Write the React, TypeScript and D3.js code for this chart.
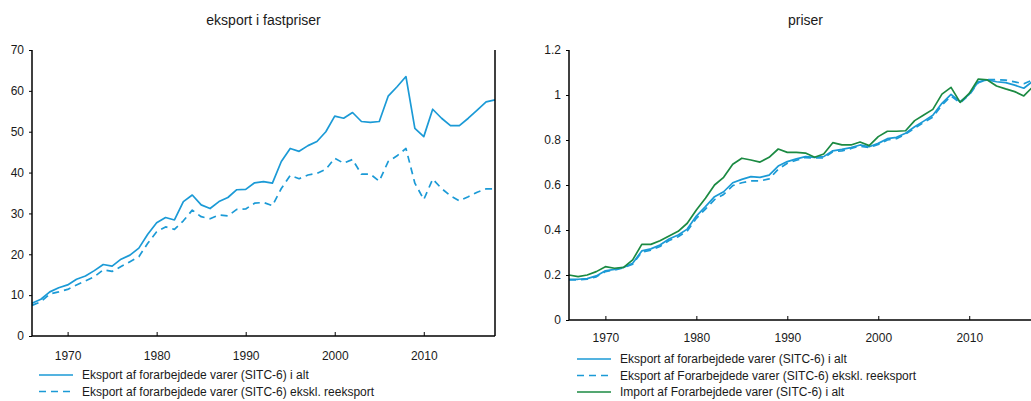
import { useEffect, useRef } from "react";
import * as d3 from "d3";

const years = d3.range(1966, 2019);

// eksport i fastpriser (mia. kr.)
const eksportIAlt = [
  8.0, 9.0, 10.8, 11.8, 12.5, 13.9, 14.7, 16.0, 17.5, 17.1,
  18.8, 19.8, 21.5, 24.9, 27.7, 29.0, 28.4, 32.9, 34.5, 32.1,
  31.2, 32.9, 33.9, 35.8, 35.9, 37.5, 37.8, 37.4, 42.7, 45.9,
  45.2, 46.6, 47.6, 50.0, 53.8, 53.3, 54.7, 52.5, 52.3, 52.5,
  58.7, 61.0, 63.5, 50.8, 48.8, 55.5, 53.3, 51.5, 51.5, 53.3,
  55.3, 57.3, 57.8,
];
const eksportEksklReeksport = [
  7.5, 8.4, 10.3, 10.8, 11.4, 12.5, 13.5, 14.5, 16.2, 15.8,
  17.0, 18.2, 19.4, 22.7, 25.5, 26.7, 26.1, 28.2, 30.8, 29.2,
  28.7, 29.6, 29.4, 31.0, 31.1, 32.5, 32.7, 31.9, 36.1, 39.3,
  38.5, 39.4, 39.8, 40.8, 43.5, 42.3, 43.2, 39.6, 39.6, 37.9,
  42.7, 44.1, 45.9, 37.4, 33.4, 38.4, 36.1, 34.3, 33.1, 34.1,
  35.2, 36.0, 36.0,
];

// priser (indeks)
const prisEksport = [
  0.181, 0.181, 0.184, 0.196, 0.219, 0.225, 0.234, 0.252, 0.307, 0.316,
  0.333, 0.36, 0.378, 0.404, 0.462, 0.504, 0.548, 0.57, 0.61, 0.625,
  0.637, 0.634, 0.644, 0.684, 0.704, 0.716, 0.726, 0.723, 0.726, 0.752,
  0.758, 0.766, 0.778, 0.77, 0.785, 0.806, 0.812, 0.83, 0.859, 0.884,
  0.91, 0.963, 1.003, 0.97, 1.003, 1.059, 1.067, 1.059, 1.055, 1.044,
  1.03, 1.062, 1.07,
];
const prisEksportEkskl = [
  0.178, 0.178, 0.182, 0.192, 0.215, 0.222, 0.232, 0.248, 0.302, 0.31,
  0.327, 0.353, 0.37, 0.396, 0.452, 0.493, 0.535, 0.558, 0.597, 0.61,
  0.618, 0.618, 0.627, 0.67, 0.697, 0.71, 0.722, 0.72, 0.72, 0.748,
  0.752, 0.762, 0.773, 0.766, 0.78, 0.8, 0.806, 0.826, 0.852, 0.878,
  0.902, 0.955, 0.995, 0.965, 1.0, 1.055, 1.068, 1.068, 1.066, 1.058,
  1.05, 1.068, 1.075,
];
const prisImport = [
  0.2, 0.193, 0.2, 0.215, 0.237, 0.23, 0.234, 0.267, 0.336, 0.336,
  0.352, 0.373, 0.394, 0.43, 0.489, 0.541, 0.6, 0.634, 0.692, 0.719,
  0.711, 0.702, 0.723, 0.76, 0.745, 0.745, 0.742, 0.723, 0.738, 0.788,
  0.778, 0.778, 0.791, 0.775, 0.815, 0.839, 0.839, 0.841, 0.886, 0.911,
  0.936, 1.004, 1.034, 0.967, 1.007, 1.071, 1.067, 1.04, 1.027, 1.015,
  0.996, 1.037, 1.045,
];

const xTicks = [1970, 1980, 1990, 2000, 2010];
const leftYTicks = [0, 10, 20, 30, 40, 50, 60, 70];
const rightYTicks = [0, 0.2, 0.4, 0.6, 0.8, 1, 1.2];

const BLUE = "#1b9ad6";
const GREEN = "#1b8a42";
const FONT = "'Liberation Sans', Arial, sans-serif";

type Series = { name: string; values: number[]; color: string; dash?: string };

export default function App() {
  const svgRef = useRef<SVGSVGElement>(null);

  useEffect(() => {
    if (!svgRef.current) return;
    const svg = d3.select(svgRef.current);
    svg.selectAll("*").remove();

    const drawPanel = (opts: {
      title: string;
      left: number;
      right: number;
      top: number;
      bottom: number;
      yMax: number;
      yTicks: number[];
      yFormat: (d: number) => string;
      series: Series[];
      rightSpine: boolean;
      labelPad: number;
      legendX: number;
      legendY: number;
    }) => {
      const x = d3.scaleLinear().domain([1966, 2018]).range([opts.left, opts.right]);
      const y = d3.scaleLinear().domain([0, opts.yMax]).range([opts.bottom, opts.top]);
      const g = svg.append("g");

      g.append("text")
        .attr("x", (opts.left + opts.right) / 2)
        .attr("y", 25)
        .attr("text-anchor", "middle")
        .style("font-family", FONT)
        .style("font-size", "14px")
        .style("fill", "#1a1a1a")
        .text(opts.title);

      const line = d3.line<number>()
        .x((_, i) => x(years[i]))
        .y((d) => y(d));

      opts.series.forEach((s) => {
        g.append("path")
          .datum(s.values)
          .attr("d", line)
          .attr("fill", "none")
          .attr("stroke", s.color)
          .attr("stroke-width", 1.7)
          .attr("stroke-dasharray", s.dash ?? null)
          .attr("stroke-linejoin", "round");
      });

      const yAxis = g.append("g")
        .attr("transform", `translate(${opts.left},0)`)
        .call(d3.axisLeft(y).tickValues(opts.yTicks).tickSize(3).tickPadding(5).tickFormat(opts.yFormat as any));
      const xAxis = g.append("g")
        .attr("transform", `translate(0,${opts.bottom})`)
        .call(d3.axisBottom(x).tickValues(xTicks).tickSize(-4).tickPadding(opts.labelPad).tickFormat(d3.format("d")));

      [yAxis, xAxis].forEach((a) => {
        a.select(".domain").attr("stroke", "#000").attr("stroke-width", 1.5);
        a.selectAll(".tick line").attr("stroke", "#000");
        a.selectAll("text")
          .style("font-family", FONT)
          .style("font-size", "12px")
          .style("fill", "#1a1a1a");
      });
      // strip d3's outer ticks on the domain path
      yAxis.select(".domain").attr("d", `M0,${opts.bottom}V${opts.top}`);
      xAxis.select(".domain").attr("d", `M${opts.left},0H${opts.right}`);

      if (opts.rightSpine) {
        g.append("line")
          .attr("x1", opts.right).attr("x2", opts.right)
          .attr("y1", opts.top).attr("y2", opts.bottom)
          .attr("stroke", "#000").attr("stroke-width", 1.5);
      }

      const legend = g.append("g").attr("transform", `translate(${opts.legendX},${opts.legendY})`);
      opts.series.forEach((s, i) => {
        const row = legend.append("g").attr("transform", `translate(0,${i * 16.5})`);
        row.append("line")
          .attr("x1", 0).attr("x2", 34)
          .attr("stroke", s.color)
          .attr("stroke-width", 1.7)
          .attr("stroke-dasharray", s.dash ?? null);
        row.append("text")
          .attr("x", 43)
          .attr("dy", "0.35em")
          .style("font-family", FONT)
          .style("font-size", "12px")
          .style("fill", "#1a1a1a")
          .text(s.name);
      });
    };

    drawPanel({
      title: "eksport i fastpriser",
      left: 32,
      right: 495,
      top: 50,
      bottom: 336,
      yMax: 70,
      yTicks: leftYTicks,
      yFormat: d3.format("d"),
      rightSpine: true,
      labelPad: 15,
      legendX: 39,
      legendY: 375,
      series: [
        { name: "Eksport af forarbejdede varer (SITC-6) i alt", values: eksportIAlt, color: BLUE },
        { name: "Eksport af forarbejdede varer (SITC-6) ekskl. reeksport", values: eksportEksklReeksport, color: BLUE, dash: "7,5" },
      ],
    });

    drawPanel({
      title: "priser",
      left: 569,
      right: 1042,
      top: 50,
      bottom: 320,
      yMax: 1.2,
      yTicks: rightYTicks,
      yFormat: (d: number) => String(+d.toFixed(1)),
      rightSpine: false,
      labelPad: 13,
      legendX: 577,
      legendY: 359,
      series: [
        { name: "Eksport af forarbejdede varer (SITC-6) i alt", values: prisEksport, color: BLUE },
        { name: "Eksport af Forarbejdede varer (SITC-6) ekskl. reeksport", values: prisEksportEkskl, color: BLUE, dash: "7,5" },
        { name: "Import af Forarbejdede varer (SITC-6) i alt", values: prisImport, color: GREEN },
      ],
    });
  }, []);

  return (
    <svg
      ref={svgRef}
      width={1031}
      height={401}
      style={{ position: "absolute", left: 0, top: 0, background: "#fff", display: "block" }}
    />
  );
}
